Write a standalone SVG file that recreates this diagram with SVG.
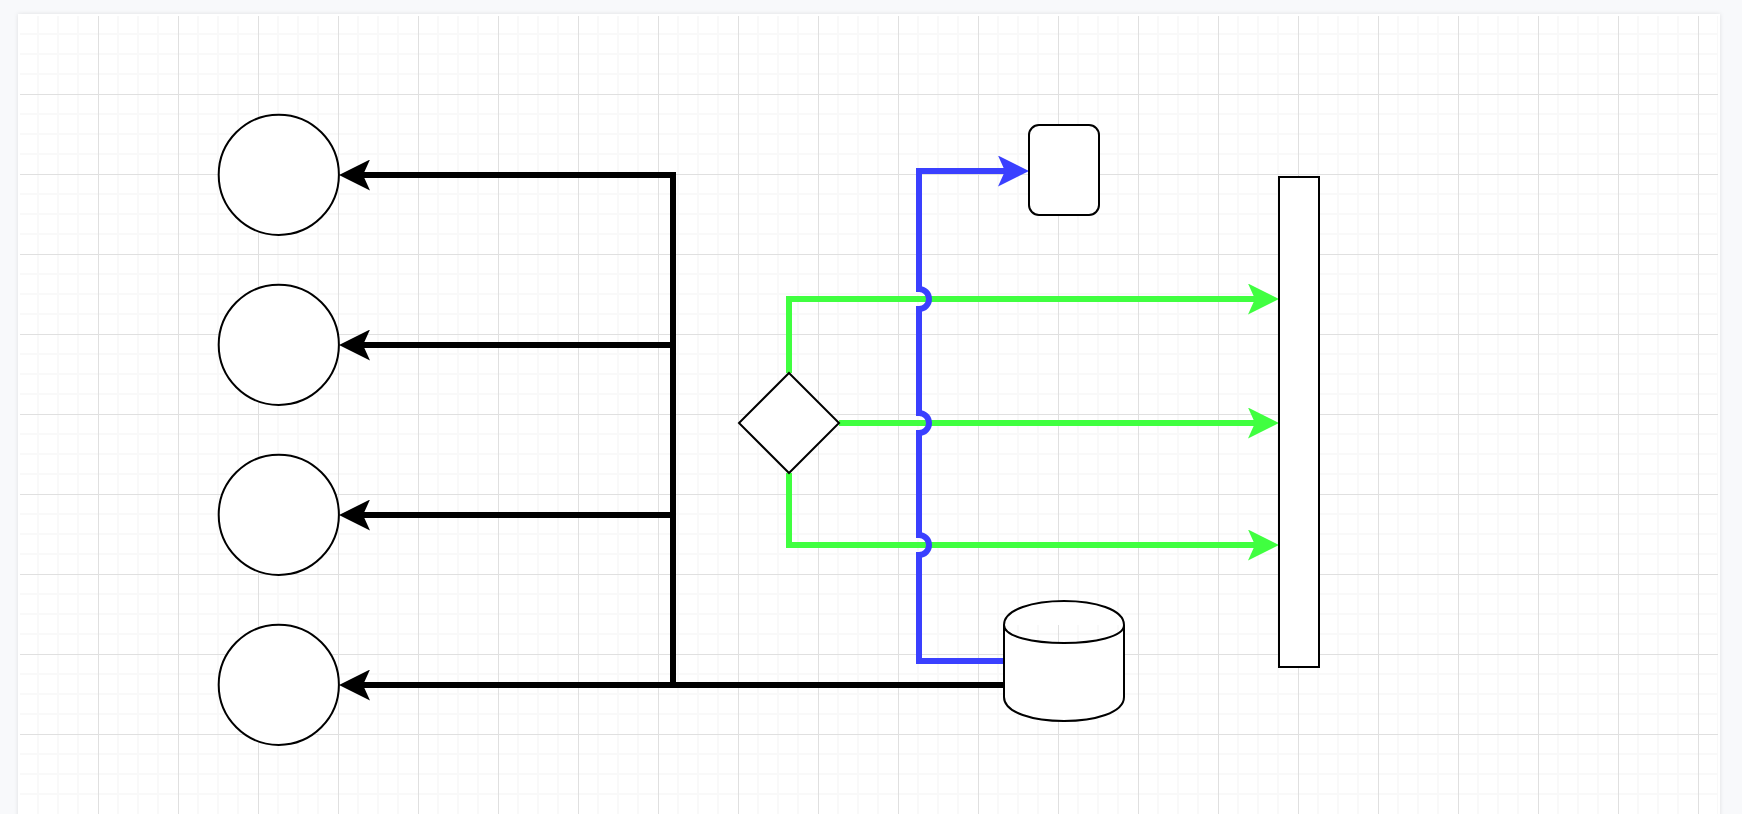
<svg xmlns="http://www.w3.org/2000/svg" width="1742" height="814" viewBox="0 0 1742 814">
  <style>
    .node { fill: #fff; stroke: #000; stroke-width: 2; }
    .c { fill: none; stroke-width: 6; stroke-linejoin: miter; stroke-linecap: butt; }
    .k { stroke: #000; }
    .g { stroke: #40ff40; }
    .b { stroke: #3a40ff; }
    .ak { marker-end: url(#arrK); }
    .ag { marker-end: url(#arrG); }
    .ab { marker-end: url(#arrB); }
  </style>
  <defs>
    <pattern id="grid" patternUnits="userSpaceOnUse" x="18" y="14" width="80" height="80">
      <path d="M20 0V80M40 0V80M60 0V80M0 20H80M0 40H80M0 60H80" fill="none" stroke="#f9f9f9" stroke-width="2"/>
      <path d="M0.5 0V80M0 0.5H80" fill="none" stroke="#e0e0e0" stroke-width="1"/>
    </pattern>
    <filter id="shadow" x="-2%" y="-5%" width="104%" height="110%">
      <feDropShadow dx="0" dy="0" stdDeviation="2" flood-color="#000" flood-opacity="0.1"/>
    </filter>
    <marker id="arrK" markerUnits="userSpaceOnUse" markerWidth="31" markerHeight="31" viewBox="0 0 31 31" refX="10" refY="15.5" orient="auto">
      <path d="M31 15.5L0 0L7 15.5L0 31Z" fill="#000"/>
    </marker>
    <marker id="arrG" markerUnits="userSpaceOnUse" markerWidth="31" markerHeight="31" viewBox="0 0 31 31" refX="10" refY="15.5" orient="auto">
      <path d="M31 15.5L0 0L7 15.5L0 31Z" fill="#40ff40"/>
    </marker>
    <marker id="arrB" markerUnits="userSpaceOnUse" markerWidth="31" markerHeight="31" viewBox="0 0 31 31" refX="10" refY="15.5" orient="auto">
      <path d="M31 15.5L0 0L7 15.5L0 31Z" fill="#3a40ff"/>
    </marker>
  </defs>

  <rect width="1742" height="814" fill="#f8f9fb"/>
  <rect x="18" y="14" width="1702" height="830" fill="#fff" filter="url(#shadow)"/>
  <rect x="20" y="16" width="1698" height="798" fill="url(#grid)"/>

  <g id="connectors">
    <path class="c k ak" d="M673 685V175H360"/>
    <path class="c k ak" d="M673 345H360"/>
    <path class="c k ak" d="M673 515H360"/>
    <path class="c k ak" d="M1004 685H360"/>
    <path class="c g ag" d="M789 373V299H1258"/>
    <path class="c g ag" d="M839 423H1258"/>
    <path class="c g ag" d="M789 473V545H1258"/>
    <path class="c b ab" d="M1004 661H919V555A10 10 0 0 0 919 535V433A10 10 0 0 0 919 413V309A10 10 0 0 0 919 289V171H1008"/>
  </g>

  <g id="circle-1"><circle class="node" cx="278.8" cy="174.8" r="60.1"/></g>
  <g id="circle-2"><circle class="node" cx="278.8" cy="344.8" r="60.1"/></g>
  <g id="circle-3"><circle class="node" cx="278.8" cy="514.8" r="60.1"/></g>
  <g id="circle-4"><circle class="node" cx="278.8" cy="684.8" r="60.1"/></g>
  <g id="rounded-box"><rect class="node" x="1029" y="125" width="70" height="90" rx="10" ry="10"/></g>
  <g id="diamond"><path class="node" d="M789 373L839 423L789 473L739 423Z"/></g>
  <g id="bar"><rect class="node" x="1279" y="177" width="40" height="490"/></g>
  <g id="cylinder"><path class="node" d="M1004 625C1004 593 1124 593 1124 625V697C1124 729 1004 729 1004 697ZM1004 625C1004 649 1124 649 1124 625"/></g>
</svg>
